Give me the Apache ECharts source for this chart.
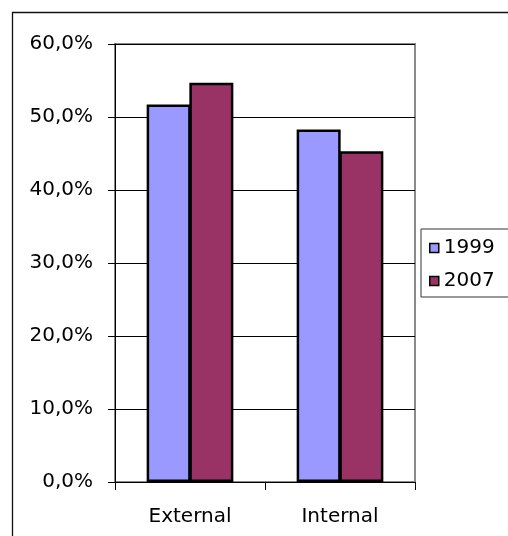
<!DOCTYPE html>
<html>
<head>
<meta charset="utf-8">
<script src="https://cdn.jsdelivr.net/npm/echarts@6/dist/echarts.min.js"></script>
<style>
html,body{margin:0;padding:0;background:#fff;}
#c{width:508px;height:536px;}
</style>
</head>
<body>
<div id="c"></div>
<script>
var categories = ['External', 'Internal'];
var seriesNames = ['1999', '2007'];
var values1999 = [51.7, 48.3];
var values2007 = [54.7, 45.3];
var yTicks = [0, 10, 20, 30, 40, 50, 60];

var chart = echarts.init(document.getElementById('c'), null, {renderer: 'canvas'});
var font = 'DejaVu Sans';
chart.setOption({
  animation: false,
  backgroundColor: '#fff',
  graphic: [{
    type: 'rect',
    shape: {x: 12.5, y: 12.5, width: 700, height: 700},
    style: {fill: 'none', stroke: '#111', lineWidth: 1.3},
    silent: true,
    z: 100
  }],
  grid: {
    left: 115, top: 44, right: 93, bottom: 54,
    show: true, borderColor: '#8a8a8a', borderWidth: 2, backgroundColor: 'transparent'
  },
  legend: {
    orient: 'vertical',
    left: 421, top: 229,
    data: seriesNames,
    icon: 'rect',
    itemWidth: 9, itemHeight: 9,
    itemGap: 13,
    padding: [9, 30, 6, 8],
    borderColor: '#333', borderWidth: 1,
    backgroundColor: '#fff',
    textStyle: {fontFamily: font, fontSize: 20, color: '#000', lineHeight: 20},
    itemStyle: {borderColor: '#000', borderWidth: 1.5}
  },
  xAxis: {
    type: 'category',
    data: categories,
    boundaryGap: true,
    axisLine: {show: true, lineStyle: {color: '#000', width: 1}},
    axisTick: {show: true, length: 8, interval: 0, lineStyle: {color: '#000'}},
    axisLabel: {fontFamily: font, fontSize: 20, color: '#000', margin: 25}
  },
  yAxis: {
    type: 'value',
    min: yTicks[0], max: yTicks[yTicks.length - 1], interval: 10,
    axisLine: {show: true, lineStyle: {color: '#000', width: 1}},
    axisTick: {show: true, length: 7, lineStyle: {color: '#000'}},
    splitLine: {show: true, lineStyle: {color: '#000', width: 1}},
    axisLabel: {
      fontFamily: font, fontSize: 20, color: '#000', margin: 22,
      formatter: function (v) { return v.toFixed(1).replace('.', ',') + '%'; }
    }
  },
  series: [{
    name: seriesNames[0], type: 'bar', data: values1999,
    barWidth: 44, barGap: '-3%',
    itemStyle: {color: '#9999FF', borderColor: '#000', borderWidth: 2.5}
  }, {
    name: seriesNames[1], type: 'bar', data: values2007,
    barWidth: 44, barGap: '-3%',
    itemStyle: {color: '#993366', borderColor: '#000', borderWidth: 2.5}
  }]
});
</script>
</body>
</html>
